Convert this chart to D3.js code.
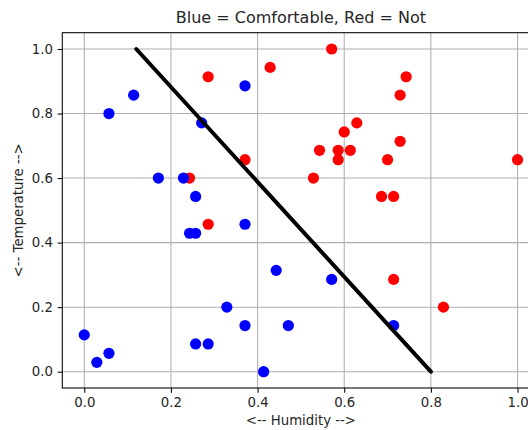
<!DOCTYPE html>
<html>
<head>
<meta charset="utf-8">
<script src="https://cdn.jsdelivr.net/npm/d3@7"></script>
<style>
  html, body { margin: 0; padding: 0; background: #fff; overflow: hidden; }
  text { font-family: "DejaVu Sans", sans-serif; fill: #262626; }
</style>
</head>
<body>
<svg id="chart" width="528" height="430"></svg>
<script>
// ---- data ----
const title = "Blue = Comfortable, Red = Not";
const xLabel = "<-- Humidity -->";
const yLabel = "<-- Temperature -->";
const xTicks = [0.0, 0.2, 0.4, 0.6, 0.8, 1.0];
const yTicks = [0.0, 0.2, 0.4, 0.6, 0.8, 1.0];

const blueHumidity = [0.114, 0.057, 0.371, 0.271, 0.171, 0.229, 0.257, 0.243, 0.257, 0.371, 0.329, 0.371, 0.257, 0.286, 0.000, 0.029, 0.057, 0.414, 0.443, 0.571, 0.471, 0.714];
const blueTemperature = [0.857, 0.800, 0.886, 0.771, 0.600, 0.600, 0.543, 0.429, 0.429, 0.457, 0.200, 0.143, 0.086, 0.086, 0.114, 0.029, 0.057, 0.000, 0.314, 0.286, 0.143, 0.143];

const redHumidity = [0.286, 0.371, 0.243, 0.571, 0.429, 0.743, 0.729, 0.629, 0.600, 0.543, 0.586, 0.614, 0.586, 0.729, 0.700, 1.000, 0.529, 0.686, 0.714, 0.286, 0.714, 0.829];
const redTemperature = [0.914, 0.657, 0.600, 1.000, 0.943, 0.914, 0.857, 0.771, 0.743, 0.686, 0.686, 0.686, 0.657, 0.714, 0.657, 0.657, 0.600, 0.543, 0.543, 0.457, 0.286, 0.200];

const boundaryX = [0.12, 0.80];
const boundaryY = [1.0, 0.0];

// ---- layout ----
const svg = d3.select("#chart");
const mLeft = 62.3, mTop = 32.7, mBottom = 388, mRight = 539.5;
const x = d3.scaleLinear().domain([-0.0507, 1.0507]).range([mLeft, mRight]);
const y = d3.scaleLinear().domain([-0.0505, 1.0505]).range([mBottom, mTop]);

const fs = 13.3;
const gridColor = "#b0b0b0";

// grid
const g = svg.append("g");
g.selectAll(".vg").data(xTicks).enter().append("line")
  .attr("x1", d => x(d)).attr("x2", d => x(d))
  .attr("y1", mTop).attr("y2", mBottom)
  .attr("stroke", gridColor).attr("stroke-width", 1.05);
g.selectAll(".hg").data(yTicks).enter().append("line")
  .attr("x1", mLeft).attr("x2", mRight)
  .attr("y1", d => y(d)).attr("y2", d => y(d))
  .attr("stroke", gridColor).attr("stroke-width", 1.05);

// axes
const xAxis = d3.axisBottom(x).tickValues(xTicks).tickFormat(d3.format(".1f")).tickSizeInner(4.7).tickSizeOuter(0).tickPadding(4.7);
const yAxis = d3.axisLeft(y).tickValues(yTicks).tickFormat(d3.format(".1f")).tickSizeInner(4.7).tickSizeOuter(0).tickPadding(4.7);

const gx = svg.append("g").attr("transform", `translate(0,${mBottom})`).call(xAxis);
const gy = svg.append("g").attr("transform", `translate(${mLeft},0)`).call(yAxis);
[gx, gy].forEach(a => {
  a.select(".domain").remove();
  a.selectAll(".tick line").attr("stroke", "#000").attr("stroke-width", 1.05);
  a.selectAll(".tick text").style("font-family", "DejaVu Sans").style("font-size", fs + "px").attr("fill", "#262626");
});

// points
const red = redHumidity.map((h, i) => ({h, t: redTemperature[i]}));
const blue = blueHumidity.map((h, i) => ({h, t: blueTemperature[i]}));
svg.append("g").selectAll("circle").data(red).enter().append("circle")
  .attr("cx", d => x(d.h)).attr("cy", d => y(d.t)).attr("r", 5.6).attr("fill", "#ff0000");
svg.append("g").selectAll("circle").data(blue).enter().append("circle")
  .attr("cx", d => x(d.h)).attr("cy", d => y(d.t)).attr("r", 5.6).attr("fill", "#0000ff");

// boundary line
const lineData = boundaryX.map((v, i) => [v, boundaryY[i]]);
svg.append("path").datum(lineData)
  .attr("d", d3.line().x(d => x(d[0])).y(d => y(d[1])))
  .attr("stroke", "#000").attr("stroke-width", 4).attr("fill", "none")
  .attr("stroke-linecap", "round");

// frame
svg.append("rect").attr("x", mLeft).attr("y", mTop).attr("width", mRight - mLeft).attr("height", mBottom - mTop)
  .attr("fill", "none").attr("stroke", "#000").attr("stroke-width", 1.05);

// labels
svg.append("text").attr("x", (mLeft + mRight) / 2).attr("y", 23).attr("text-anchor", "middle")
  .style("font-size", "16px").text(title);
svg.append("text").attr("x", (mLeft + mRight) / 2).attr("y", 425).attr("text-anchor", "middle")
  .style("font-size", fs + "px").text(xLabel);
svg.append("text").attr("transform", `translate(23,${(mTop + mBottom) / 2}) rotate(-90)`).attr("text-anchor", "middle")
  .style("font-size", fs + "px").text(yLabel);
</script>
</body>
</html>
